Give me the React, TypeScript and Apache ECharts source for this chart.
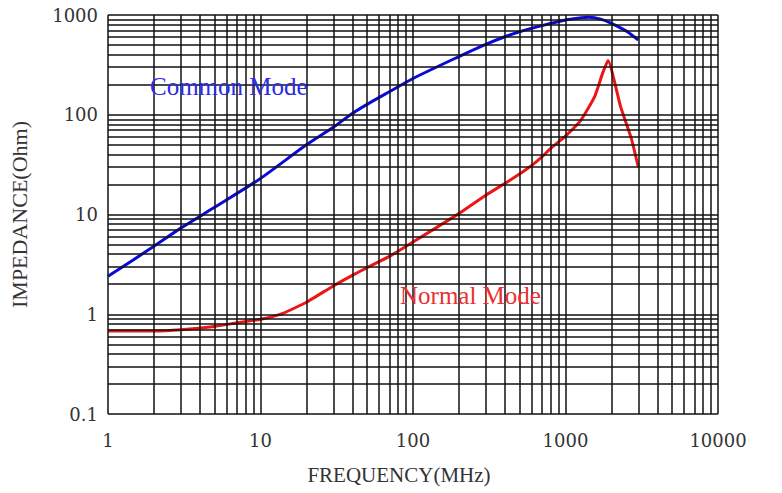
import React, { useEffect, useRef } from "react";
import * as echarts from "echarts";

// Common Mode impedance (blue)
const freqCommon = [1, 2, 3, 5, 10, 20, 30, 40, 50, 70, 100, 200, 300, 400, 500, 700, 1000, 1200, 1430, 1700, 2000, 2500, 3000];
const zCommon = [2.4, 4.8, 7.3, 11.8, 23, 50, 75, 103, 127, 170, 231, 383, 508, 605, 680, 782, 891, 927, 948, 910, 825, 690, 561];

// Normal Mode impedance (red)
const freqNormal = [1, 2, 3, 5, 7, 10, 14, 20, 30, 40, 50, 70, 100, 200, 300, 450, 600, 700, 800, 900, 1000, 1260, 1550, 1750, 1900, 2300, 2700, 3000];
const zNormal = [0.68, 0.68, 0.7, 0.755, 0.82, 0.89, 1.02, 1.32, 1.92, 2.45, 2.93, 3.8, 5.3, 10.2, 15.6, 22.9, 31, 37.8, 46, 53.5, 61, 88, 151, 260, 350, 120, 58, 30];

// Axis decades and grid multiples
const xDecades = [1, 10, 100, 1000];
const yDecades = [0.1, 1, 10, 100];
const multiples = [1, 2, 3, 4, 5, 6, 7, 8, 9];
const xMax = 10000;
const yMax = 1000;

const xGrid: number[] = [];
xDecades.forEach((d) => multiples.forEach((m) => xGrid.push(+(d * m).toPrecision(6))));
xGrid.push(xMax);
const yGrid: number[] = [];
yDecades.forEach((d) => multiples.forEach((m) => yGrid.push(+(d * m).toPrecision(6))));
yGrid.push(yMax);

const labelFont = "DejaVu Serif";
const titleFont = "Liberation Serif";

export default function App() {
  const ref = useRef<HTMLDivElement>(null);
  useEffect(() => {
    if (!ref.current) return;
    const chart = echarts.init(ref.current, undefined, { renderer: "svg" });
    chart.setOption({
      animation: false,
      backgroundColor: "#ffffff",
      grid: { left: 107, right: 64, top: 15, bottom: 79 },
      xAxis: {
        type: "log",
        logBase: 10,
        min: 1,
        max: xMax,
        name: "FREQUENCY(MHz)",
        nameLocation: "middle",
        nameGap: 50,
        nameTextStyle: { fontFamily: titleFont, fontSize: 21, color: "#333", padding: [0, 28, 0, 0] },
        axisLine: { show: false },
        axisTick: { show: false },
        splitLine: { show: false },
        axisLabel: {
          fontFamily: labelFont,
          fontSize: 18,
          color: "#333",
          margin: 17,
          formatter: (v: number) => String(v),
        },
      },
      yAxis: {
        type: "log",
        logBase: 10,
        min: 0.1,
        max: yMax,
        name: "IMPEDANCE(Ohm)",
        nameLocation: "middle",
        nameGap: 78,
        nameRotate: 90,
        nameTextStyle: { fontFamily: titleFont, fontSize: 22, color: "#333" },
        axisLine: { show: false },
        axisTick: { show: false },
        splitLine: { show: false },
        axisLabel: {
          fontFamily: labelFont,
          fontSize: 18,
          color: "#333",
          margin: 10,
          formatter: (v: number) => String(+v.toPrecision(6)),
        },
      },
      graphic: [
        {
          type: "text",
          left: 150,
          top: 74,
          style: { text: "Common Mode", fontFamily: titleFont, fontSize: 25, fill: "#2b2be6" },
          z: 10,
        },
        {
          type: "text",
          left: 400,
          top: 283,
          style: { text: "Normal Mode", fontFamily: titleFont, fontSize: 25, fill: "#e83030" },
          z: 10,
        },
      ],
      series: [
        {
          type: "line",
          data: [],
          silent: true,
          z: 1,
          markLine: {
            silent: true,
            symbol: "none",
            animation: false,
            label: { show: false },
            lineStyle: { color: "#111", width: 1.5, type: "solid" },
            data: [
              ...xGrid.map((v) => ({ xAxis: v })),
              ...yGrid.map((v) => ({ yAxis: v })),
            ],
          },
        },
        {
          name: "Common Mode",
          type: "line",
          z: 3,
          showSymbol: false,
          smooth: 0.25,
          lineStyle: { color: "#0a0ad8", width: 3 },
          data: freqCommon.map((f, i) => [f, zCommon[i]]),
        },
        {
          name: "Normal Mode",
          type: "line",
          z: 3,
          showSymbol: false,
          smooth: 0.15,
          lineStyle: { color: "#ee1515", width: 3, join: "round" },
          data: freqNormal.map((f, i) => [f, zNormal[i]]),
        },
      ],
    });
    return () => chart.dispose();
  }, []);
  return (
    <div
      ref={ref}
      style={{ position: "absolute", left: 0, top: 0, width: 782, height: 493, background: "#fff" }}
    />
  );
}
